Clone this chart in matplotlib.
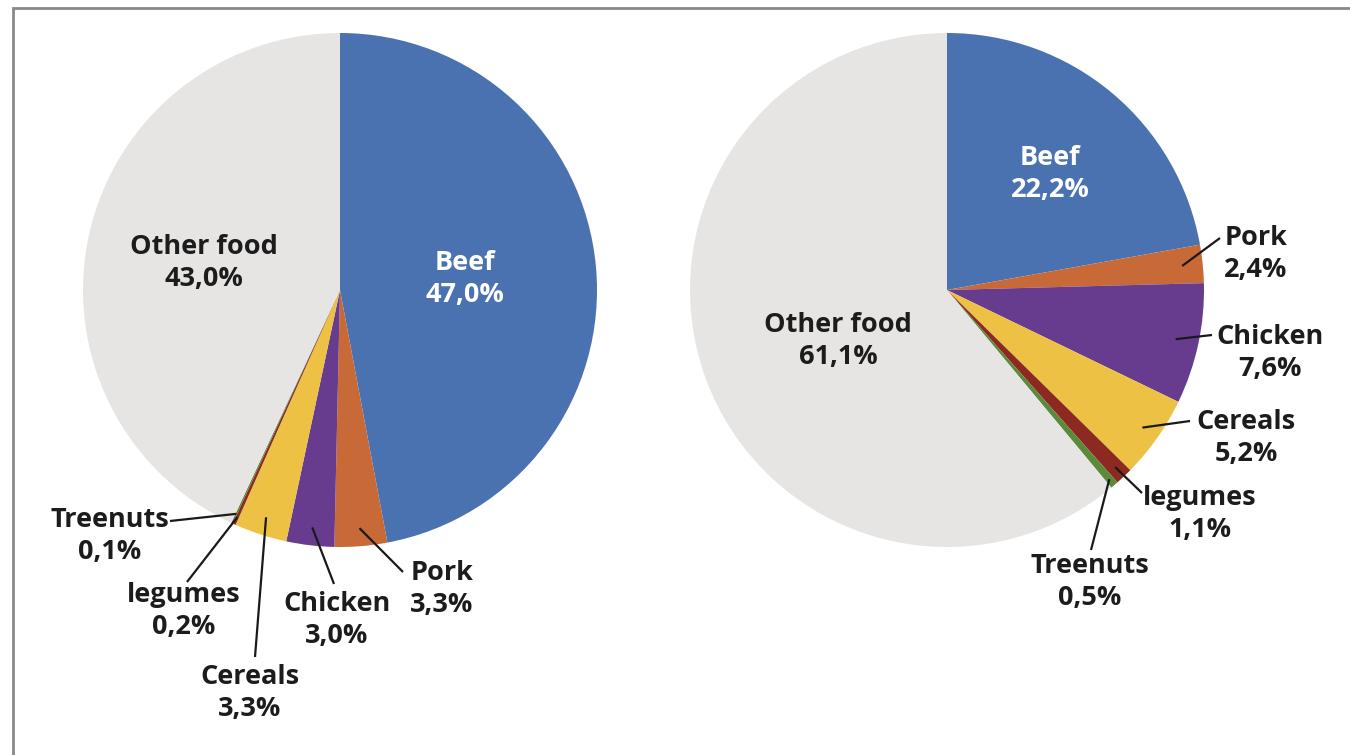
import numpy as np
import matplotlib.pyplot as plt
from matplotlib.patches import Rectangle

# data
categories = ["Beef", "Pork", "Chicken", "Cereals", "legumes", "Treenuts", "Other food"]
left_values = [47.0, 3.3, 3.0, 3.3, 0.2, 0.1, 43.0]
right_values = [22.2, 2.4, 7.6, 5.2, 1.1, 0.5, 61.1]
colors = ["#4A72B0", "#C86A37", "#673C8F", "#EDC143", "#8C2A22", "#5C8A3B", "#E7E5E4"]

plt.rcParams["font.family"] = ["Open Sans", "DejaVu Sans"]
TXT = "#1c1c1c"
FS = 19.5
LS = 1.3

fig = plt.figure(figsize=(13.5, 7.55), dpi=100)
ax = fig.add_axes([0, 0, 1, 1])
ax.set_xlim(0, 1350)
ax.set_ylim(0, 755)
ax.set_aspect("equal")
ax.axis("off")

# frame around the chart
ax.add_patch(Rectangle((13, -20), 1400, 767, fill=False, edgecolor="#8a8a8a", linewidth=2))

R = 257


def fmt(v):
    return f"{v:.1f}%".replace(".", ",")


def draw_pie(center, values, inside, outside):
    wedges, _ = ax.pie(values, colors=colors, startangle=90, counterclock=False,
                       center=center, radius=R, frame=True,
                       wedgeprops=dict(linewidth=0))
    for i, (name, v) in enumerate(zip(categories, values)):
        label = f"{name}\n{fmt(v)}"
        if name in inside:
            x, y = inside[name]
            col = "white" if name == "Beef" else TXT
            ax.text(x, y, label, ha="center", va="center", fontsize=FS,
                    fontweight="bold", color=col, linespacing=LS)
        else:
            (tx, ty), (lx, ly), frac = outside[name]
            w = wedges[i]
            mid = np.deg2rad((w.theta1 + w.theta2) / 2)
            sx = center[0] + frac * R * np.cos(mid)
            sy = center[1] + frac * R * np.sin(mid)
            ax.plot([sx, lx], [sy, ly], color="#1a1a1a", linewidth=1.6,
                    solid_capstyle="butt")
            ax.text(tx, ty, label, ha="center", va="center", fontsize=FS,
                    fontweight="bold", color=TXT, linespacing=LS)


H = 755
draw_pie((340, H - 290), left_values,
         inside={"Beef": (465, H - 279), "Other food": (204, H - 263)},
         outside={
             "Pork": ((442, H - 589), (403, H - 572), 0.93),
             "Chicken": ((337, H - 620), (334, H - 584), 0.93),
             "Cereals": ((250, H - 693), (255, H - 657), 0.93),
             "legumes": ((184, H - 611), (187, H - 582), 0.97),
             "Treenuts": ((110, H - 536), (170, H - 521), 0.96),
         })
draw_pie((947, H - 290), right_values,
         inside={"Beef": (1050, H - 174), "Other food": (838, H - 341)},
         outside={
             "Pork": ((1256, H - 254), (1220, H - 238), 0.92),
             "Chicken": ((1270, H - 353), (1212, H - 335), 0.91),
             "Cereals": ((1246, H - 438), (1190, H - 421), 0.93),
             "legumes": ((1200, H - 514), (1142, H - 493), 0.95),
             "Treenuts": ((1090, H - 582), (1091, H - 550), 0.97),
         })

ax.set_xlim(0, 1350)
ax.set_ylim(0, 755)
fig.savefig("out.png", dpi=100)
